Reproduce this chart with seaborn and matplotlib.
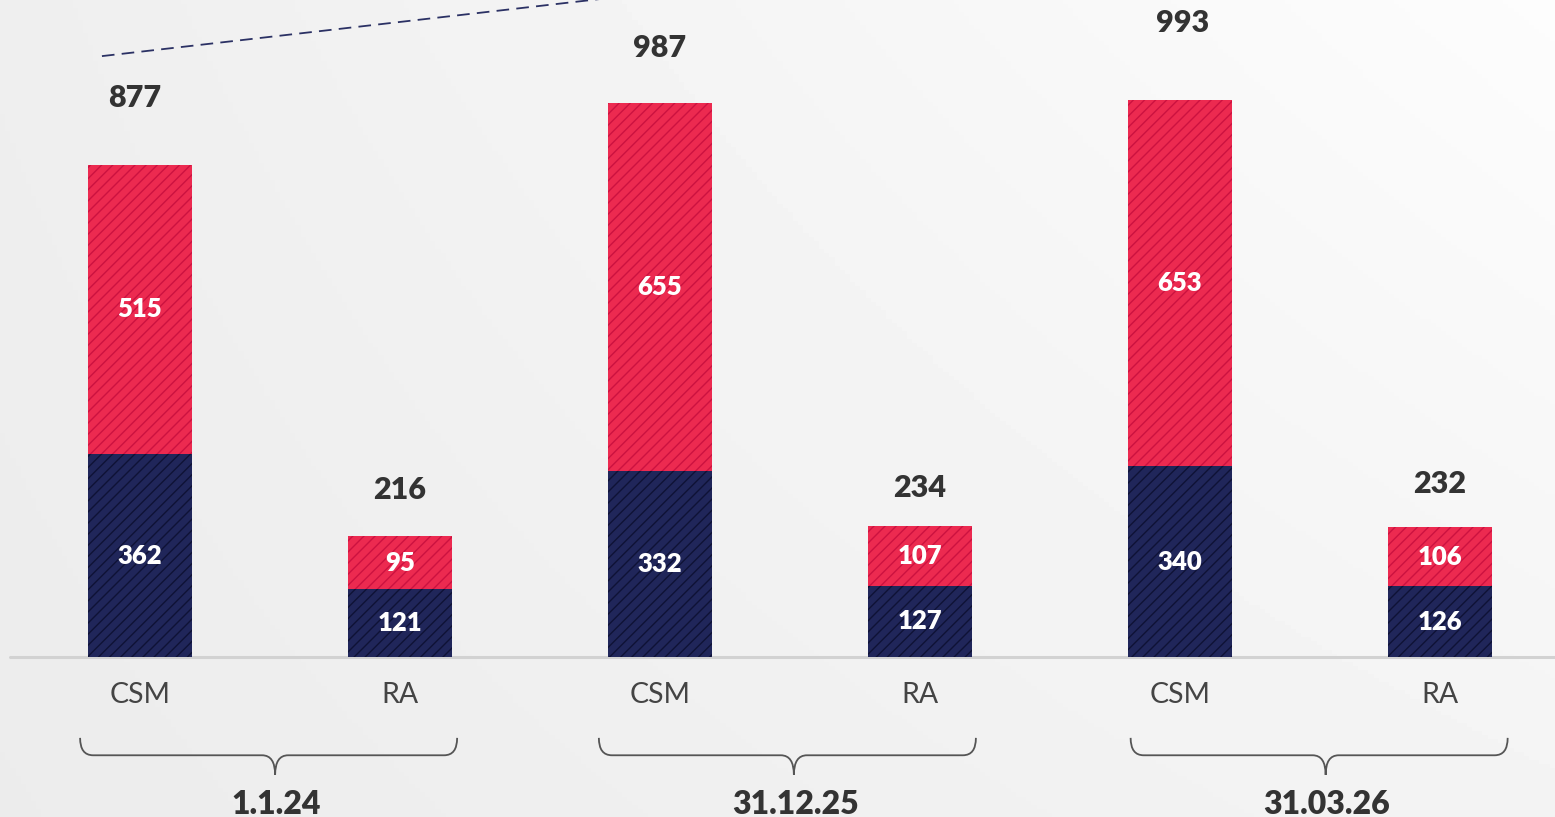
#!/usr/bin/env python3

import numpy as np
import pandas as pd
import seaborn as sns
import matplotlib.pyplot as plt
from matplotlib.path import Path
from matplotlib.patches import PathPatch

# data
groups = ['1.1.24', '31.12.25', '31.03.26']
kinds = ['CSM', 'RA']
lower = [362, 121, 332, 127, 340, 126]   # navy part
upper = [515, 95, 655, 107, 653, 106]    # red part

RED = '#ec2a50'
RED_HATCH = '#cc1240'
NAVY = '#20265a'
NAVY_HATCH = '#0f1236'
TEXT = '#333333'

sns.set_style('white')
plt.rcParams['font.family'] = ['Lato', 'DejaVu Sans']
plt.rcParams['hatch.linewidth'] = 1.0

keys = ['{} {}'.format(g, k) for g in groups for k in kinds]
df = pd.DataFrame({'key': keys,
                   'kind': [k for g in groups for k in kinds],
                   'lower': lower,
                   'upper': upper})
df['total'] = df['lower'] + df['upper']

fig = plt.figure(figsize=(15.55, 8.17), dpi=100)

# soft grey gradient behind everything
bg = fig.add_axes([0, 0, 1, 1], zorder=-1)
xx, yy = np.meshgrid(np.linspace(0, 1, 300), np.linspace(0, 1, 200))
shade = 0.925 + 0.03 * xx + 0.025 * yy * xx + 0.01 * yy
bg.imshow(np.clip(shade, 0, 1), cmap='gray', vmin=0, vmax=1,
          aspect='auto', extent=(0, 1, 0, 1), origin='lower')
bg.axis('off')

ax = fig.add_axes([0, 0, 1, 1])
ax.patch.set_alpha(0)

sns.barplot(data=df, x='key', y='total', order=keys, color=RED,
            saturation=1, width=0.4, hatch='///', edgecolor=RED_HATCH,
            linewidth=0, errorbar=None, ax=ax)
sns.barplot(data=df, x='key', y='lower', order=keys, color=NAVY,
            saturation=1, width=0.4, hatch='///', edgecolor=NAVY_HATCH,
            linewidth=0, errorbar=None, ax=ax)

ax.set_xlim(-0.538, 5.442)
ax.set_ylim(-285, 1171)
ax.axis('off')

# baseline
ax.plot([-0.5, 5.442], [0, 0], color='#d2d2d2', lw=2.2, zorder=0.5)

# trend line in the top-left corner
ax.plot([-0.146, 2.0], [1071, 1185], color='#2b3164', lw=1.3,
        dashes=(7, 4))

# value labels
total_pad = [48, 33, 40, 27, 55, 31]
total_dx = [-4, 0, 0, 0, 2, 0]
for i, row in df.iterrows():
    ax.text(i, row['lower'] / 2, str(row['lower']), ha='center',
            va='center', color='white', fontsize=18.5, fontweight='heavy')
    ax.text(i, row['lower'] + row['upper'] / 2, str(row['upper']),
            ha='center', va='center', color='white', fontsize=18.5,
            fontweight='heavy')
    ax.annotate(str(row['total']), (i, row['total']),
                xytext=(total_dx[i], total_pad[i]),
                textcoords='offset points', ha='center', va='center',
                color=TEXT, fontsize=22, fontweight='heavy')
    ax.text(i, -68, row['kind'], ha='center', va='center',
            color='#444444', fontsize=20.5)


def brace(x0, x1, xm, yt=-144, yh=-175, ytip=-210, r=0.05):
    verts = [(x0, yt), (x0, yh), (x0 + r, yh),
             (xm - r, yh), (xm, yh), (xm, ytip),
             (xm, yh), (xm + r, yh),
             (x1 - r, yh), (x1, yh), (x1, yt)]
    codes = [Path.MOVETO, Path.CURVE3, Path.CURVE3,
             Path.LINETO, Path.CURVE3, Path.CURVE3,
             Path.CURVE3, Path.CURVE3,
             Path.LINETO, Path.CURVE3, Path.CURVE3]
    ax.add_patch(PathPatch(Path(verts, codes), fill=False,
                           edgecolor='#555555', lw=1.3))


brace_shift = [0.0, -0.005, 0.04]
for j, g in enumerate(groups):
    mid = 2 * j + 0.5 + brace_shift[j]
    brace(mid - 0.73, mid + 0.72, mid + 0.02)
    ax.text(mid + 0.025, -262, g, ha='center', va='center', color=TEXT,
            fontsize=23, fontweight='heavy')

fig.savefig('out.png', dpi=100)
